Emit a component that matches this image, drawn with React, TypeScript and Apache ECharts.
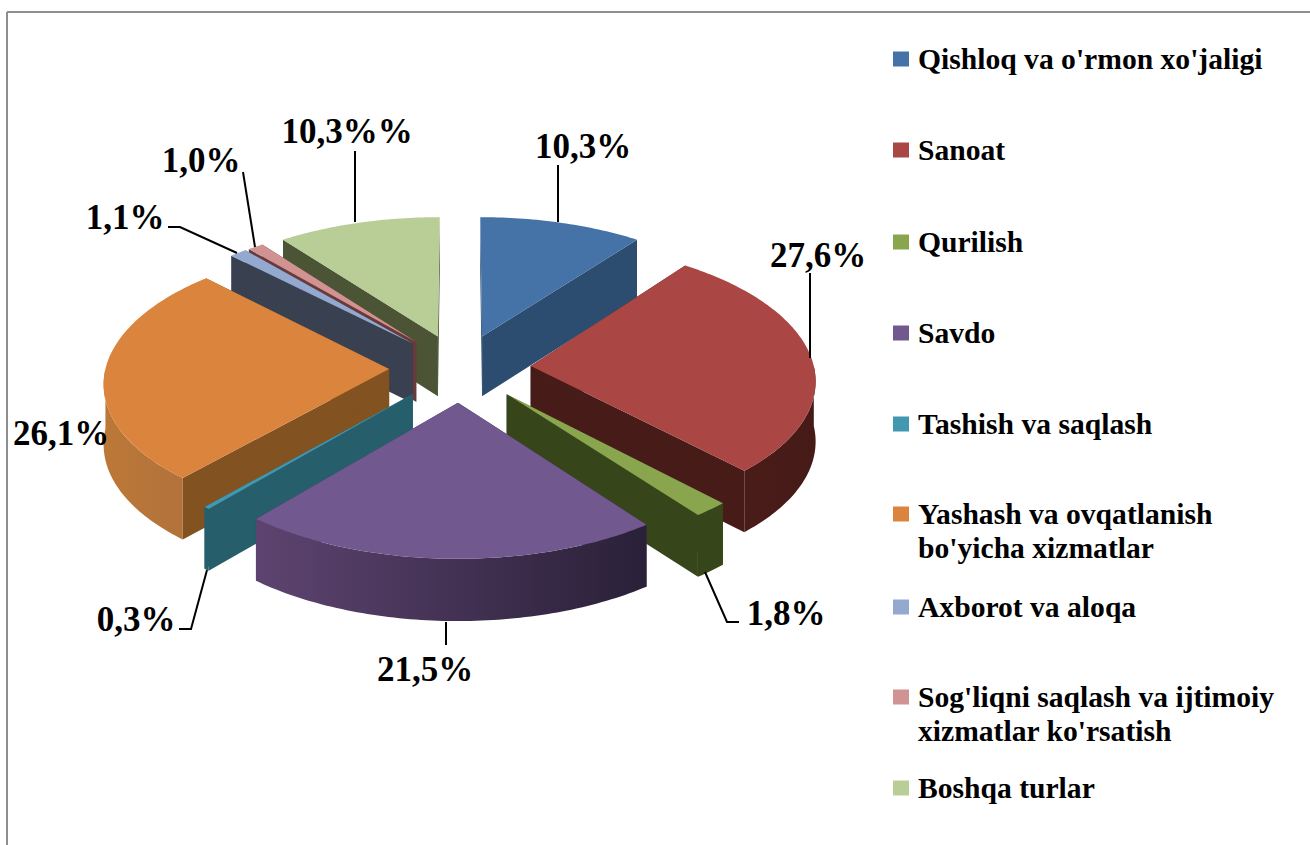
import React, { useEffect, useRef } from "react";
import * as echarts from "echarts";

const categories = [
  "Qishloq va o'rmon xo'jaligi",
  "Sanoat",
  "Qurilish",
  "Savdo",
  "Tashish va saqlash",
  "Yashash va ovqatlanish bo'yicha xizmatlar",
  "Axborot va aloqa",
  "Sog'liqni saqlash va ijtimoiy xizmatlar ko'rsatish",
  "Boshqa turlar",
];
const shareValues = [10.3, 27.6, 1.8, 21.5, 0.3, 26.1, 1.1, 1.0, 10.3];
const shareLabels = ["10,3%", "27,6%", "1,8%", "21,5%", "0,3%", "26,1%", "1,1%", "1,0%", "10,3%%"];
const legendLines = [
  ["Qishloq va o'rmon xo'jaligi"],
  ["Sanoat"],
  ["Qurilish"],
  ["Savdo"],
  ["Tashish va saqlash"],
  ["Yashash va ovqatlanish", "bo'yicha xizmatlar"],
  ["Axborot va aloqa"],
  ["Sog'liqni saqlash va ijtimoiy", "xizmatlar ko'rsatish"],
  ["Boshqa turlar"],
];

const topColors = ["#4572A7", "#AA4643", "#89A54E", "#71588F", "#4198AF", "#DB843D", "#93A9CF", "#D19392", "#B9CD96"];
const wallColors = ["#2C4D70", "#471B18", "#37451B", "#3A2B4C", "#275E6C", "#825221", "#39404F", "#6A3A3A", "#4C5436"];
const arcLeftColors = ["#2C4D70", "#4A1C19", "#37451B", "#5D4470", "#275E6C", "#BB7837", "#39404F", "#6A3A3A", "#4C5436"];
const arcRightColors = ["#2C4D70", "#451A17", "#37451B", "#2A2038", "#275E6C", "#B2723A", "#39404F", "#6A3A3A", "#4C5436"];
const paintOrder = [8, 7, 6, 0, 5, 1, 4, 2, 3];

const legendIconCenters = [59, 150, 242, 333, 424, 514, 607, 697, 788];
const labelCenters: number[][] = [
  [583, 146], [818, 255], [786, 613], [425, 669], [136, 619], [61, 433], [125, 217], [201, 160], [347, 131],
];
const leaderLines: number[][][] = [
  [[558, 165], [558, 222]],
  [[810, 273], [810, 358]],
  [[705, 572], [727, 622], [739, 622]],
  [[446, 622], [446, 645]],
  [[207, 570], [191, 629], [179, 629]],
  [],
  [[237, 253], [180, 227], [168, 227]],
  [[255, 247], [243, 172]],
  [[355, 222], [355, 151]],
];

const CX = 460;
const CY = 368;
const RX = 283.5;
const RY = 135.5;
const PERSPECTIVE = 0.09;
const EXPLODE = 0.25;
const DEPTH = 60;
const DEPTH_GROWTH = 0.03;
const SERIF = "'Liberation Serif', 'Times New Roman', serif";

const total = shareValues.reduce((a, b) => a + b, 0);
const startAngles = shareValues.map((_, i) =>
  (shareValues.slice(0, i).reduce((a, b) => a + b, 0) / total) * 360
);

function project(u: number, v: number, drop = 0): number[] {
  const s = 1 / (1 - PERSPECTIVE * v);
  return [CX + RX * u * s, CY + RY * v * s + drop * (1 + DEPTH_GROWTH * v)];
}

function discPoint(apex: number[], deg: number): number[] {
  const r = (deg * Math.PI) / 180;
  return [apex[0] + Math.sin(r), apex[1] - Math.cos(r)];
}

function arcPoints(apex: number[], from: number, to: number, drop = 0): number[][] {
  const n = Math.max(2, Math.ceil(to - from));
  const pts: number[][] = [];
  for (let i = 0; i <= n; i++) {
    const p = discPoint(apex, from + ((to - from) * i) / n);
    pts.push(project(p[0], p[1], drop));
  }
  return pts;
}

function makeRenderItem(index: number) {
  return (_params: any, api: any) => {
    const value = api.value(0);
    const start = startAngles[index];
    const end = start + (value / total) * 360;
    const mid = ((start + end) / 2) * (Math.PI / 180);
    const apex = [EXPLODE * Math.sin(mid), -EXPLODE * Math.cos(mid)];
    const a0 = project(apex[0], apex[1]);
    const a1 = project(apex[0], apex[1], DEPTH);
    const children: any[] = [];

    const cutWall = (deg: number) => {
      const p = discPoint(apex, deg);
      children.push({
        type: "polygon",
        shape: { points: [a0, project(p[0], p[1]), project(p[0], p[1], DEPTH), a1] },
        style: { fill: wallColors[index] },
      });
    };
    cutWall(start);
    cutWall(end);

    const from = Math.max(start, 90);
    const to = Math.min(end, 270);
    if (to > from) {
      const upper = arcPoints(apex, from, to);
      const lower = arcPoints(apex, from, to, DEPTH).reverse();
      children.push({
        type: "polygon",
        shape: { points: upper.concat(lower) },
        style: {
          fill: {
            type: "linear",
            x: 0,
            y: 0,
            x2: 1,
            y2: 0,
            colorStops: [
              { offset: 0, color: arcLeftColors[index] },
              { offset: 1, color: arcRightColors[index] },
            ],
          },
        },
      });
    }

    children.push({
      type: "polygon",
      shape: { points: [a0].concat(arcPoints(apex, start, end)) },
      style: { fill: topColors[index] },
    });

    if (leaderLines[index].length) {
      children.push({
        type: "polyline",
        shape: { points: leaderLines[index] },
        style: { stroke: "#000000", lineWidth: 2, fill: "none" },
      });
    }
    children.push({
      type: "text",
      style: {
        text: shareLabels[index],
        x: labelCenters[index][0],
        y: labelCenters[index][1],
        align: "center",
        verticalAlign: "middle",
        fontFamily: SERIF,
        fontWeight: "bold",
        fontSize: 35,
        fill: "#000000",
      },
    });
    return { type: "group", children };
  };
}

export default function App() {
  const ref = useRef<HTMLDivElement>(null);
  useEffect(() => {
    if (!ref.current) return;
    const chart = echarts.init(ref.current, undefined, { renderer: "svg" });
    chart.setOption({
      animation: false,
      backgroundColor: "#FFFFFF",
      graphic: [
        { type: "line", shape: { x1: 7, y1: 12, x2: 1310, y2: 12 }, style: { stroke: "#8E8E8E", lineWidth: 2 } },
        { type: "line", shape: { x1: 7, y1: 12, x2: 7, y2: 845 }, style: { stroke: "#8E8E8E", lineWidth: 2 } },
      ],
      legend: categories.map((name, i) => {
        const lines = legendLines[i];
        const two = lines.length > 1;
        return {
          left: 893,
          top: two ? legendIconCenters[i] - 51 : legendIconCenters[i] - 17,
          padding: 0,
          orient: "vertical",
          selectedMode: false,
          itemWidth: 16,
          itemHeight: 15,
          formatter: () => (two ? "\n" : "") + lines.join("\n"),
          textStyle: {
            fontFamily: SERIF,
            fontWeight: "bold",
            fontSize: 29.6,
            lineHeight: 34,
            color: "#000000",
            padding: [0, 0, 0, 4],
          },
          data: [{ name, icon: "rect", itemStyle: { color: topColors[i] } }],
        };
      }),
      series: paintOrder.map((i) => ({
        type: "custom",
        name: categories[i],
        coordinateSystem: "none",
        silent: true,
        itemStyle: { color: topColors[i] },
        data: [[shareValues[i]]],
        renderItem: makeRenderItem(i),
      })),
    });
    return () => chart.dispose();
  }, []);
  return (
    <div
      ref={ref}
      style={{ position: "fixed", left: 0, top: 0, width: 1310, height: 845, background: "#fff" }}
    />
  );
}
